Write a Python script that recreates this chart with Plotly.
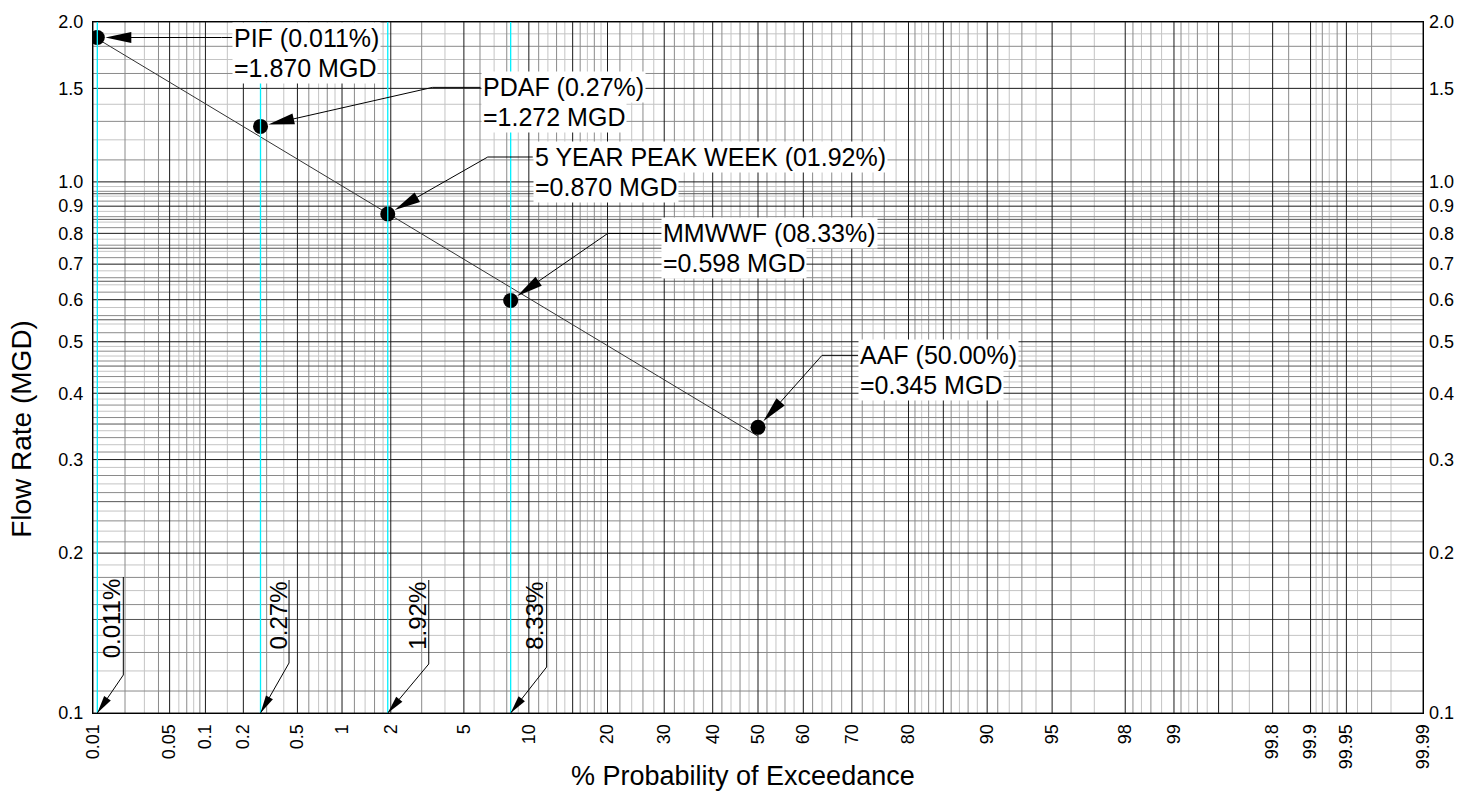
import math
import plotly.graph_objects as go

# ---------------------------------------------------------------------------
# Data
# ---------------------------------------------------------------------------
point_names = ["PIF", "PDAF", "5 YEAR PEAK WEEK", "MMWWF", "AAF"]
point_pct_text = ["0.011%", "0.27%", "01.92%", "08.33%", "50.00%"]
point_pct = [0.011, 0.27, 1.92, 8.33, 50.0]          # % probability of exceedance
point_flow = [1.870, 1.272, 0.870, 0.598, 0.345]     # MGD

# End points of the fitted log-normal line
fit_pct = [0.011, 50.0]
fit_flow = [1.86, 0.332]

# Exceedance levels flagged along the probability axis
marker_pct = [0.011, 0.27, 1.92, 8.33]
marker_labels = ["0.011%", "0.27%", "1.92%", "8.33%"]

# Axis ticks
x_tick_pct = [0.01, 0.05, 0.1, 0.2, 0.5, 1, 2, 5, 10, 20, 30, 40, 50, 60, 70,
              80, 90, 95, 98, 99, 99.8, 99.9, 99.95, 99.99]
x_tick_text = ["0.01", "0.05", "0.1", "0.2", "0.5", "1", "2", "5", "10", "20",
               "30", "40", "50", "60", "70", "80", "90", "95", "98", "99",
               "99.8", "99.9", "99.95", "99.99"]
y_tick_vals = [0.1, 0.2, 0.3, 0.4, 0.5, 0.6, 0.7, 0.8, 0.9, 1.0, 1.5, 2.0]
y_tick_text = ["0.1", "0.2", "0.3", "0.4", "0.5", "0.6", "0.7", "0.8", "0.9",
               "1.0", "1.5", "2.0"]

# Probability-paper grid
x_grid_major = [0.01, 0.05, 0.1, 0.2, 0.5, 1, 2, 5, 10, 15, 20, 30, 40, 50, 60,
                70, 80, 85, 90, 95, 98, 99, 99.5, 99.8, 99.9, 99.95, 99.99]
x_grid_minor = [0.02, 0.03, 0.04, 0.06, 0.07, 0.08, 0.09, 0.15, 0.3, 0.4, 0.6,
                0.7, 0.8, 0.9, 1.2, 1.4, 1.6, 1.8, 3, 4, 6, 7, 8, 9, 11, 12, 13,
                14, 16, 17, 18, 19, 22, 24, 26, 28, 32, 34, 36, 38, 42, 44, 46,
                48, 52, 54, 56, 58, 62, 64, 66, 68, 72, 74, 76, 78, 81, 82, 83,
                84, 86, 87, 88, 89, 91, 92, 93, 94, 96, 97, 98.2, 98.4, 98.6,
                98.8, 99.1, 99.2, 99.3, 99.4, 99.6, 99.7, 99.85, 99.91, 99.92,
                99.93, 99.94, 99.96, 99.97, 99.98]
y_grid_major = [0.1, 0.2, 0.3, 0.4, 0.5, 0.6, 0.7, 0.8, 0.9, 1.0, 1.5, 2.0]
y_grid_mid = [0.15, 0.25, 0.35, 0.45, 0.55, 0.65, 0.75, 0.85, 0.95]
y_grid_minor = [0.11, 0.12, 0.13, 0.14, 0.16, 0.17, 0.18, 0.19,
                0.21, 0.22, 0.23, 0.24, 0.26, 0.27, 0.28, 0.29,
                0.31, 0.32, 0.33, 0.34, 0.36, 0.37, 0.38, 0.39,
                0.41, 0.42, 0.43, 0.44, 0.46, 0.47, 0.48, 0.49,
                0.52, 0.54, 0.56, 0.58, 0.62, 0.64, 0.66, 0.68,
                0.72, 0.74, 0.76, 0.78, 0.82, 0.84, 0.86, 0.88,
                0.92, 0.94, 0.96, 0.98,
                1.1, 1.2, 1.3, 1.4, 1.6, 1.7, 1.8, 1.9]

# Callout geometry in pixels relative to each point: leader knee (dx, dy up)
# and the left edge of the label box.
callout_knee = [(124, 0), (172, 39), (100, 57), (97, 67), (64, 72)]
callout_text_dx = [135, 220, 145, 150, 100]
LINE_GAP = 30

# Axis flags: label centre (dx, dy up) and underline (dx, top, bottom)
flag_text_pos = [(14, 95), (17, 97), (29, 97), (23, 97)]
flag_line = [(26, 136, 38), (28.5, 133, 50), (41, 133, 49), (36, 131, 46)]

FONT = "Liberation Sans, Arial, sans-serif"


def norm_ppf(p):
    """Inverse of the standard normal CDF (Acklam's rational approximation)."""
    a = [-3.969683028665376e+01, 2.209460984245205e+02, -2.759285104469687e+02,
         1.383577518672690e+02, -3.066479806614716e+01, 2.506628277459239e+00]
    b = [-5.447609879822406e+01, 1.615858368580409e+02, -1.556989798598866e+02,
         6.680131188771972e+01, -1.328068155288572e+01]
    c = [-7.784894002430293e-03, -3.223964580411365e-01, -2.400758277161838e+00,
         -2.549732539343734e+00, 4.374664141464968e+00, 2.938163982698783e+00]
    d = [7.784695709041462e-03, 3.224671290700398e-01, 2.445134137142996e+00,
         3.754408661907416e+00]
    plow = 0.02425
    if p < plow:
        q = math.sqrt(-2 * math.log(p))
        return (((((c[0]*q+c[1])*q+c[2])*q+c[3])*q+c[4])*q+c[5]) / \
               ((((d[0]*q+d[1])*q+d[2])*q+d[3])*q+1)
    if p > 1 - plow:
        q = math.sqrt(-2 * math.log(1 - p))
        return -(((((c[0]*q+c[1])*q+c[2])*q+c[3])*q+c[4])*q+c[5]) / \
                ((((d[0]*q+d[1])*q+d[2])*q+d[3])*q+1)
    q = p - 0.5
    r = q * q
    return (((((a[0]*r+a[1])*r+a[2])*r+a[3])*r+a[4])*r+a[5])*q / \
           (((((b[0]*r+b[1])*r+b[2])*r+b[3])*r+b[4])*r+1)


def zp(pct):
    """Normal-probability scale position of a percentage."""
    return norm_ppf(pct / 100.0)


X_MIN, X_MAX = zp(0.01), zp(99.99)
Y_MIN, Y_MAX = 0.1, 2.0


def vlines(pcts):
    xs, ys = [], []
    for p in pcts:
        xs += [zp(p), zp(p), None]
        ys += [Y_MIN, Y_MAX, None]
    return xs, ys


def hlines(vals):
    xs, ys = [], []
    for v in vals:
        xs += [X_MIN, X_MAX, None]
        ys += [v, v, None]
    return xs, ys


def line_trace(xs, ys, color, width, yaxis="y"):
    return go.Scatter(x=xs, y=ys, mode="lines", yaxis=yaxis,
                      line=dict(color=color, width=width),
                      hoverinfo="skip", showlegend=False)


fig = go.Figure()

# grid: light, medium, dark
light_v = [p for i, p in enumerate(x_grid_minor) if i % 2 == 1]
dark_v = [p for i, p in enumerate(x_grid_minor) if i % 2 == 0]
light_h = [v for i, v in enumerate(y_grid_minor) if i % 2 == 1]
dark_h = [v for i, v in enumerate(y_grid_minor) if i % 2 == 0]

fig.add_trace(line_trace(*vlines(light_v), "#c4c4c4", 1))
fig.add_trace(line_trace(*hlines(light_h), "#c4c4c4", 1))
fig.add_trace(line_trace(*vlines(dark_v), "#8a8a8a", 1))
fig.add_trace(line_trace(*hlines(dark_h), "#8a8a8a", 1))
fig.add_trace(line_trace(*hlines(y_grid_mid), "#555555", 1))
fig.add_trace(line_trace(*vlines(x_grid_major), "#1a1a1a", 1))
fig.add_trace(line_trace(*hlines(y_grid_major), "#1a1a1a", 1))

# cyan exceedance markers (also carries the right-hand axis)
fig.add_trace(line_trace(*vlines(marker_pct), "#00f0ff", 1.3, yaxis="y2"))

# fitted line and design points
fig.add_trace(go.Scatter(x=[zp(p) for p in fit_pct], y=fit_flow, mode="lines",
                         line=dict(color="#333333", width=1),
                         hoverinfo="skip", showlegend=False))
fig.add_trace(go.Scatter(x=[zp(p) for p in point_pct], y=point_flow,
                         mode="markers",
                         marker=dict(color="black", size=15),
                         showlegend=False))


def head_path(dx, dy, r0, length, hw):
    n = math.hypot(dx, dy)
    ux, uy = dx / n, dy / n
    tx, ty = r0 * ux, r0 * uy
    bx, by = (r0 + length) * ux, (r0 + length) * uy
    px, py = -uy * hw, ux * hw
    return (f"M{tx:.2f},{ty:.2f} L{bx + px:.2f},{by + py:.2f} "
            f"L{bx - px:.2f},{by - py:.2f} Z")


def px_shape(kind, xa, ya, **kw):
    base = dict(type=kind, xref="x", yref="y", xsizemode="pixel",
                ysizemode="pixel", xanchor=xa, yanchor=ya, layer="above")
    base.update(kw)
    return base


shapes = []
annotations = []
label_font = dict(family=FONT, size=25, color="black")

# point callouts
for i, (p, q) in enumerate(zip(point_pct, point_flow)):
    kx, ky = callout_knee[i]
    tx = callout_text_dx[i]
    xa = zp(p)
    n = math.hypot(kx, ky)
    shapes.append(px_shape("path", xa, q, path=head_path(kx, ky, 8, 26, 5.5),
                           fillcolor="black", line=dict(width=0)))
    shapes.append(px_shape("line", xa, q, x0=20 * kx / n, y0=20 * ky / n,
                           x1=kx, y1=ky, line=dict(color="black", width=1)))
    shapes.append(px_shape("line", xa, q, x0=kx, y0=ky, x1=tx, y1=ky,
                           line=dict(color="black", width=1)))
    lines = [f"{point_names[i]} ({point_pct_text[i]})", f"={q:.3f} MGD"]
    for j, txt in enumerate(lines):
        annotations.append(dict(
            x=xa, y=math.log10(q), xref="x", yref="y", showarrow=False,
            text=txt, xanchor="left", yanchor="middle", align="left",
            xshift=tx, yshift=ky - j * LINE_GAP, bgcolor="white", borderpad=1,
            font=label_font))

# axis flags
for i, p in enumerate(marker_pct):
    xa = zp(p)
    lx, ltop, lbot = flag_line[i]
    shapes.append(px_shape("line", xa, Y_MIN, x0=lx, y0=ltop, x1=lx, y1=lbot,
                           line=dict(color="black", width=1)))
    shapes.append(px_shape("line", xa, Y_MIN, x0=0, y0=0, x1=lx, y1=lbot,
                           line=dict(color="black", width=1)))
    shapes.append(px_shape("path", xa, Y_MIN, path=head_path(lx, lbot, 0, 18, 4),
                           fillcolor="black", line=dict(width=0)))
    tdx, tdy = flag_text_pos[i]
    annotations.append(dict(
        x=xa, y=math.log10(Y_MIN), xref="x", yref="y", showarrow=False,
        text=marker_labels[i], textangle=-90, xanchor="center",
        yanchor="middle", xshift=tdx, yshift=tdy,
        font=dict(family=FONT, size=24, color="black")))

# axis titles
annotations.append(dict(x=0.4887, y=-0.0917, xref="paper", yref="paper",
                        showarrow=False, text="% Probability of Exceedance",
                        xanchor="center", yanchor="middle",
                        font=dict(family=FONT, size=27, color="black")))
annotations.append(dict(x=-0.0535, y=0.411, xref="paper", yref="paper",
                        showarrow=False, text="Flow Rate (MGD)", textangle=-90,
                        xanchor="center", yanchor="middle",
                        font=dict(family=FONT, size=28, color="black")))

yaxis_common = dict(type="log", range=[math.log10(Y_MIN), math.log10(Y_MAX)],
                    tickmode="array", tickvals=y_tick_vals, ticktext=y_tick_text,
                    showgrid=False, zeroline=False, ticks="",
                    ticklabelstandoff=5,
                    tickfont=dict(family=FONT, size=18, color="black"))

fig.update_layout(
    width=1472, height=794,
    margin=dict(l=93, r=49, t=15, b=81),
    paper_bgcolor="white", plot_bgcolor="white",
    showlegend=False,
    xaxis=dict(range=[X_MIN, X_MAX], tickmode="array",
               tickvals=[zp(p) for p in x_tick_pct], ticktext=x_tick_text,
               tickangle=-90, showgrid=False, zeroline=False, ticks="",
               ticklabelstandoff=3,
               showline=True, linecolor="black", linewidth=1, mirror=True,
               tickfont=dict(family=FONT, size=18, color="black")),
    yaxis=dict(**yaxis_common, side="left", showline=True, linecolor="black",
               linewidth=1, mirror=True),
    yaxis2=dict(**yaxis_common, side="right", overlaying="y"),
    shapes=shapes,
    annotations=annotations,
)

fig.write_html("out.html")
